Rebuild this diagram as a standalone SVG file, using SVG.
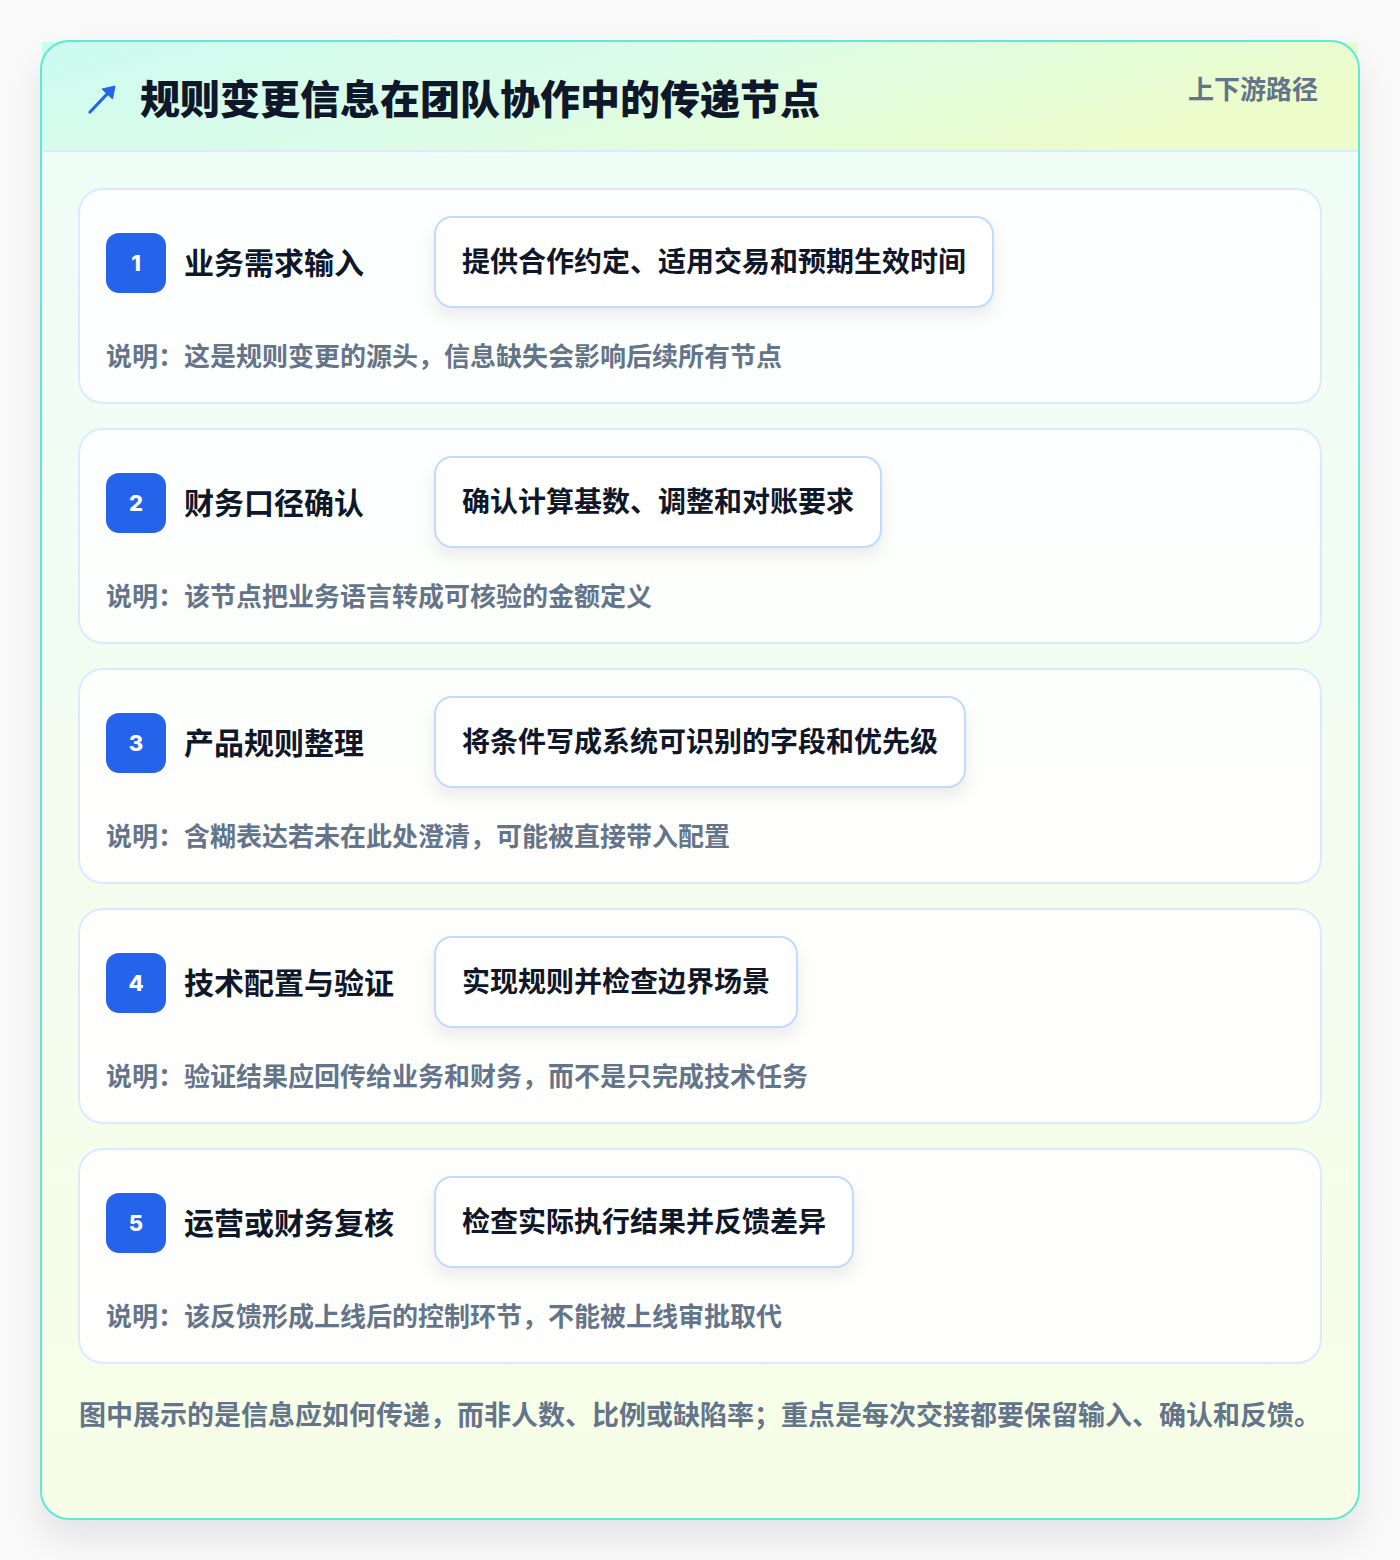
<svg xmlns="http://www.w3.org/2000/svg" width="1400" height="1560" viewBox="0 0 1400 1560">
<defs>
<linearGradient id="hdr" x1="0" y1="0" x2="1" y2="0.3">
<stop offset="0" stop-color="#ccfbf1"/>
<stop offset="0.5" stop-color="#dcfce7"/>
<stop offset="1" stop-color="#ecfccb"/>
</linearGradient>
<linearGradient id="body" x1="0" y1="0" x2="0" y2="1">
<stop offset="0" stop-color="#effdf9"/>
<stop offset="1" stop-color="#f7fee7"/>
</linearGradient>
<filter id="cardShadow" x="-10%" y="-10%" width="120%" height="120%">
<feDropShadow dx="0" dy="18" stdDeviation="18" flood-color="#0f172a" flood-opacity="0.10"/>
</filter>
<filter id="pillShadow" x="-10%" y="-30%" width="120%" height="170%">
<feDropShadow dx="0" dy="8" stdDeviation="8" flood-color="#0f172a" flood-opacity="0.08"/>
</filter>
</defs>
<style>
text{font-family:"Noto Sans CJK SC","Noto Sans",sans-serif;font-weight:700}
.title{font-size:40px;fill:#0f172a;font-weight:900}
.tag{font-size:26px;fill:#64748b}
.step{fill:#ffffff;fill-opacity:0.85;stroke:#dbeafe;stroke-width:2}
.badge{fill:#2563eb}
.num{font-family:Inter,"Noto Sans",sans-serif;font-size:22px;font-weight:800;fill:#ffffff;text-anchor:middle}
.name{font-size:30px;fill:#0f172a}
.pill{fill:#ffffff;stroke:#bfdbfe;stroke-width:2}
.ptext{font-size:28px;fill:#0f172a}
.desc{font-size:26px;fill:#64748b}
.foot{font-size:27px;fill:#64748b}
</style>
<rect width="1400" height="1560" fill="#fafafa"/>
<g id="card">
<rect x="41" y="41" width="1318" height="1478" rx="28" fill="url(#body)" filter="url(#cardShadow)"/>
<rect x="42" y="42" width="1316" height="109" fill="url(#hdr)"/>
<line x1="42" y1="151" x2="1358" y2="151" stroke="#dbeafe" stroke-width="2"/>
<rect x="41" y="41" width="1318" height="1478" rx="28" fill="none" stroke="#5eead4" stroke-width="2"/>
</g>
<g id="header">
<g id="icon" stroke="#2563eb" fill="#2563eb">
<line x1="90" y1="112" x2="109" y2="92" stroke-width="3.2" stroke-linecap="round"/>
<path d="M115 86 L112.5 99 L102 89 Z" stroke-width="1" stroke-linejoin="round"/>
</g>
<text class="title" x="140" y="114">规则变更信息在团队协作中的传递节点</text>
<text class="tag" x="1318" y="99" text-anchor="end">上下游路径</text>
</g>
<g id="connectors"></g>
<g id="step1">
<rect class="step" x="79" y="189" width="1242" height="214" rx="24"/>
<rect class="badge" x="106" y="233" width="60" height="60" rx="13"/>
<text class="num" x="136" y="271">1</text>
<text class="name" x="184" y="274">业务需求输入</text>
<rect class="pill" x="435" y="217" width="558" height="90" rx="17" filter="url(#pillShadow)"/>
<text class="ptext" x="462" y="272">提供合作约定、适用交易和预期生效时间</text>
<text class="desc" x="106" y="366">说明：这是规则变更的源头，信息缺失会影响后续所有节点</text>
</g>
<g id="step2">
<rect class="step" x="79" y="429" width="1242" height="214" rx="24"/>
<rect class="badge" x="106" y="473" width="60" height="60" rx="13"/>
<text class="num" x="136" y="511">2</text>
<text class="name" x="184" y="514">财务口径确认</text>
<rect class="pill" x="435" y="457" width="446" height="90" rx="17" filter="url(#pillShadow)"/>
<text class="ptext" x="462" y="512">确认计算基数、调整和对账要求</text>
<text class="desc" x="106" y="606">说明：该节点把业务语言转成可核验的金额定义</text>
</g>
<g id="step3">
<rect class="step" x="79" y="669" width="1242" height="214" rx="24"/>
<rect class="badge" x="106" y="713" width="60" height="60" rx="13"/>
<text class="num" x="136" y="751">3</text>
<text class="name" x="184" y="754">产品规则整理</text>
<rect class="pill" x="435" y="697" width="530" height="90" rx="17" filter="url(#pillShadow)"/>
<text class="ptext" x="462" y="752">将条件写成系统可识别的字段和优先级</text>
<text class="desc" x="106" y="846">说明：含糊表达若未在此处澄清，可能被直接带入配置</text>
</g>
<g id="step4">
<rect class="step" x="79" y="909" width="1242" height="214" rx="24"/>
<rect class="badge" x="106" y="953" width="60" height="60" rx="13"/>
<text class="num" x="136" y="991">4</text>
<text class="name" x="184" y="994">技术配置与验证</text>
<rect class="pill" x="435" y="937" width="362" height="90" rx="17" filter="url(#pillShadow)"/>
<text class="ptext" x="462" y="992">实现规则并检查边界场景</text>
<text class="desc" x="106" y="1086">说明：验证结果应回传给业务和财务，而不是只完成技术任务</text>
</g>
<g id="step5">
<rect class="step" x="79" y="1149" width="1242" height="214" rx="24"/>
<rect class="badge" x="106" y="1193" width="60" height="60" rx="13"/>
<text class="num" x="136" y="1231">5</text>
<text class="name" x="184" y="1234">运营或财务复核</text>
<rect class="pill" x="435" y="1177" width="418" height="90" rx="17" filter="url(#pillShadow)"/>
<text class="ptext" x="462" y="1232">检查实际执行结果并反馈差异</text>
<text class="desc" x="106" y="1326">说明：该反馈形成上线后的控制环节，不能被上线审批取代</text>
</g>
<g id="footer">
<text class="foot" x="79" y="1425">图中展示的是信息应如何传递，而非人数、比例或缺陷率；重点是每次交接都要保留输入、确认和反馈。</text>
</g>
</svg>
